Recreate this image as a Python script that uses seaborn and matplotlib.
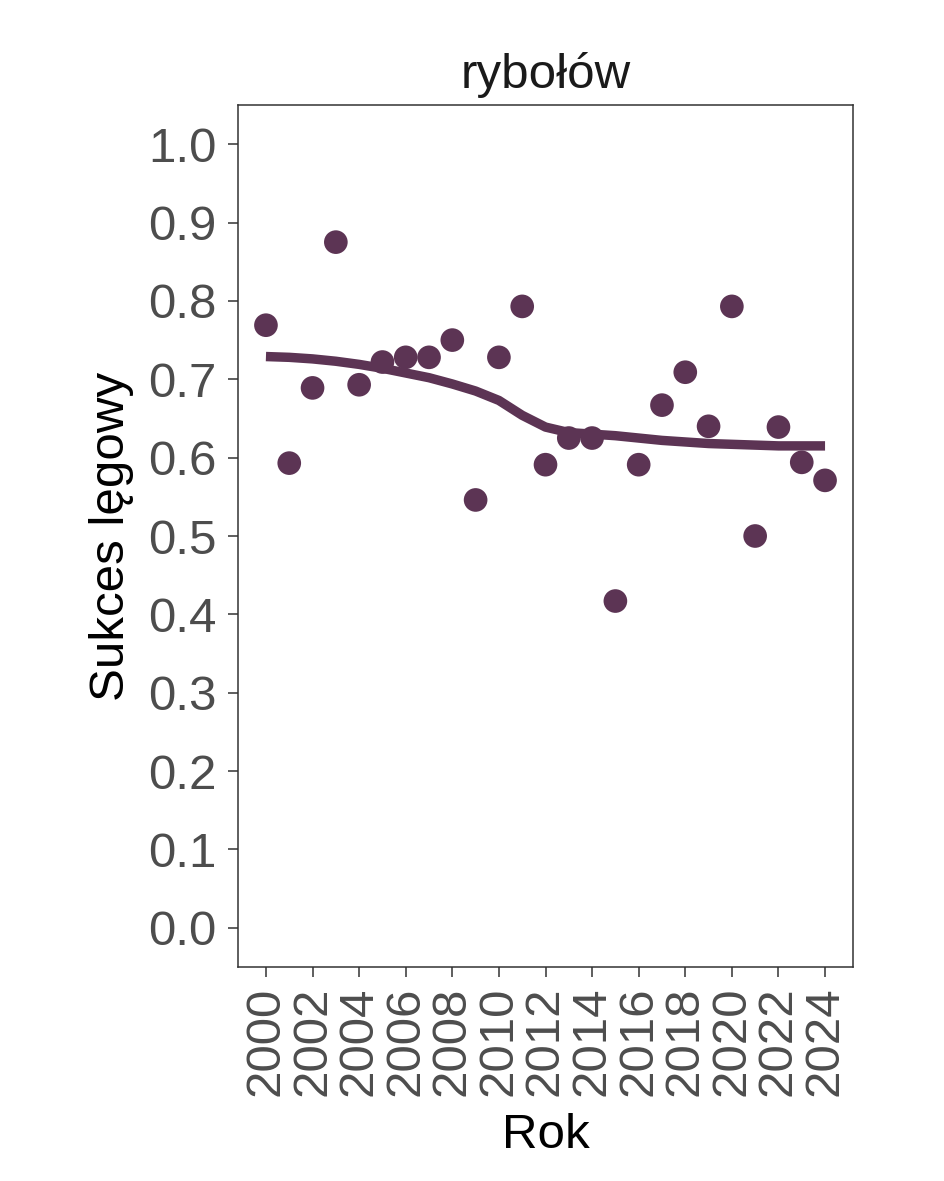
import numpy as np
import pandas as pd
import matplotlib
matplotlib.use("Agg")
import matplotlib.pyplot as plt
import seaborn as sns

# ---- data ----
years = [2000, 2001, 2002, 2003, 2004, 2005, 2006, 2007, 2008, 2009, 2010, 2011,
         2012, 2013, 2014, 2015, 2016, 2017, 2018, 2019, 2020, 2021, 2022, 2023, 2024]
success = [0.769, 0.593, 0.689, 0.875, 0.693, 0.722, 0.728, 0.728, 0.750, 0.546, 0.728, 0.793,
           0.591, 0.625, 0.625, 0.417, 0.591, 0.667, 0.709, 0.640, 0.793, 0.500, 0.639, 0.594, 0.571]
# smoothed trend at each year
trend = [0.729, 0.728, 0.726, 0.723, 0.719, 0.714, 0.708, 0.702, 0.694, 0.685, 0.673, 0.654,
         0.639, 0.632, 0.630, 0.628, 0.625, 0.622, 0.620, 0.618, 0.617, 0.616, 0.615, 0.615, 0.615]
title = "rybołów"
xlabel = "Rok"
ylabel = "Sukces lęgowy"
xticks = list(range(2000, 2025, 2))
yticks = [round(0.1 * i, 1) for i in range(11)]

color = "#5C3454"

df = pd.DataFrame({"Rok": years, "Sukces": success, "Trend": trend})

sns.set_theme(style="white")
plt.rcParams["font.family"] = ["Liberation Sans", "DejaVu Sans"]

fig = plt.figure(figsize=(9.44, 11.81), dpi=100)
ax = fig.add_axes([238 / 944, 1 - 967 / 1181, (853 - 238) / 944, (967 - 105) / 1181])

sns.scatterplot(data=df, x="Rok", y="Sukces", ax=ax, color=color, s=290,
                edgecolor="none", linewidth=0, zorder=3)
sns.lineplot(data=df, x="Rok", y="Trend", ax=ax, color=color, linewidth=6.8,
             zorder=2, solid_capstyle="butt")

ax.set_xlim(2000 - 1.2, 2024 + 1.2)
ax.set_ylim(-0.05, 1.05)
ax.set_xticks(xticks)
ax.set_xticklabels([str(t) for t in xticks], rotation=90)
ax.set_yticks(yticks)
ax.set_yticklabels([f"{t:.1f}" for t in yticks])

for s in ax.spines.values():
    s.set_visible(True)
    s.set_color("#333333")
    s.set_linewidth(1.1)

ax.tick_params(axis="both", which="both", length=7, width=1.1, color="#333333",
               labelsize=35.5, labelcolor="#4D4D4D",
               left=True, bottom=True)
ax.tick_params(axis="y", pad=8.5)
ax.tick_params(axis="x", pad=7)
ax.set_xlabel(xlabel, fontsize=35.5, color="black", labelpad=12)
ax.set_ylabel(ylabel, fontsize=35.5, color="black", labelpad=10)
ax.set_title(title, fontsize=35.5, color="#1A1A1A", pad=12)
ax.grid(False)

fig.savefig("out.png", dpi=100, facecolor="white")
